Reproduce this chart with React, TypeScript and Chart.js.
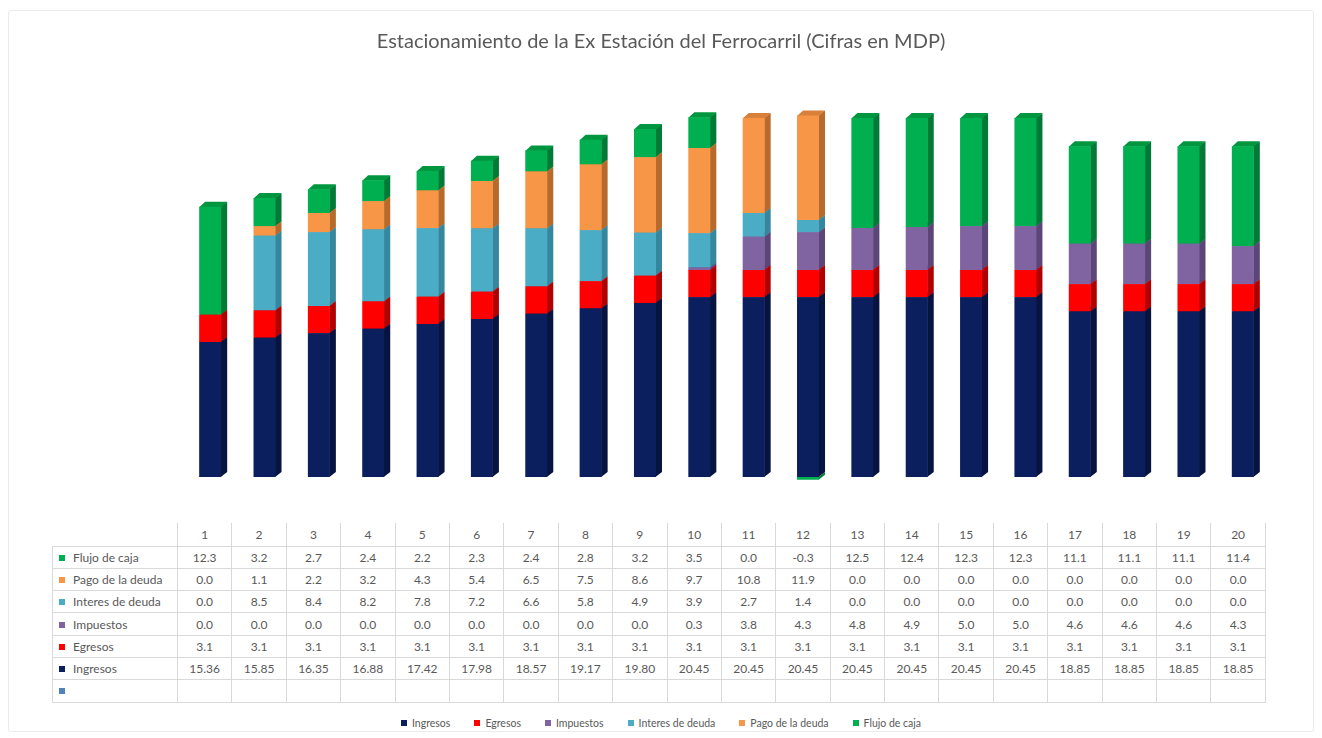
import React, { useEffect, useRef } from "react";
import { Chart, registerables } from "chart.js";

Chart.register(...registerables);

const TITLE = "Estacionamiento de la Ex Estación del Ferrocarril (Cifras en MDP)";
const periods = ["1", "2", "3", "4", "5", "6", "7", "8", "9", "10", "11", "12", "13", "14", "15", "16", "17", "18", "19", "20"];

const ingresos = [15.36, 15.85, 16.35, 16.88, 17.42, 17.98, 18.57, 19.17, 19.8, 20.45, 20.45, 20.45, 20.45, 20.45, 20.45, 20.45, 18.85, 18.85, 18.85, 18.85];
const egresos = [3.1, 3.1, 3.1, 3.1, 3.1, 3.1, 3.1, 3.1, 3.1, 3.1, 3.1, 3.1, 3.1, 3.1, 3.1, 3.1, 3.1, 3.1, 3.1, 3.1];
const impuestos = [0.0, 0.0, 0.0, 0.0, 0.0, 0.0, 0.0, 0.0, 0.0, 0.3, 3.8, 4.3, 4.8, 4.9, 5.0, 5.0, 4.6, 4.6, 4.6, 4.3];
const interesDeuda = [0.0, 8.5, 8.4, 8.2, 7.8, 7.2, 6.6, 5.8, 4.9, 3.9, 2.7, 1.4, 0.0, 0.0, 0.0, 0.0, 0.0, 0.0, 0.0, 0.0];
const pagoDeuda = [0.0, 1.1, 2.2, 3.2, 4.3, 5.4, 6.5, 7.5, 8.6, 9.7, 10.8, 11.9, 0.0, 0.0, 0.0, 0.0, 0.0, 0.0, 0.0, 0.0];
const flujoCaja = [12.3, 3.2, 2.7, 2.4, 2.2, 2.3, 2.4, 2.8, 3.2, 3.5, 0.0, -0.3, 12.5, 12.4, 12.3, 12.3, 11.1, 11.1, 11.1, 11.4];

const seriesNames = ["Ingresos", "Egresos", "Impuestos", "Interes de deuda", "Pago de la deuda", "Flujo de caja"];
const seriesValues = [ingresos, egresos, impuestos, interesDeuda, pagoDeuda, flujoCaja];
const seriesDecimals = [2, 1, 1, 1, 1, 1];
const frontColors = ["#0b1f5e", "#ff0000", "#8064a2", "#4bacc6", "#f79646", "#00b050"];
const sideColors = ["#06143f", "#b00000", "#5c4677", "#35879e", "#b86a2c", "#007a36"];
const topColors = ["#0a1a50", "#d80000", "#6f5690", "#3f9bb4", "#d9813a", "#00963f"];
const tableOrder = [5, 4, 3, 2, 1, 0];

const DX = 6;
const DY = 5;

const threeD = {
  id: "threeD",
  beforeDatasetsDraw(chart: any) {
    const ctx = chart.ctx;
    ctx.save();
    chart.data.datasets.forEach((ds: any, i: number) => {
      const meta = chart.getDatasetMeta(i);
      meta.data.forEach((el: any, j: number) => {
        const v = ds.data[j];
        const p = el.getProps(["x", "y", "base", "width"], true);
        const top = Math.min(p.y, p.base);
        const bottom = Math.max(p.y, p.base);
        if (bottom - top < 0.5) return;
        const l = p.x - p.width / 2;
        const r = p.x + p.width / 2;
        ctx.fillStyle = sideColors[i];
        ctx.beginPath();
        ctx.moveTo(r - 0.5, bottom);
        ctx.lineTo(r + DX, bottom - DY);
        ctx.lineTo(r + DX, top - DY);
        ctx.lineTo(r - 0.5, top);
        ctx.closePath();
        ctx.fill();
        if (v > 0) {
          ctx.fillStyle = topColors[i];
          ctx.beginPath();
          ctx.moveTo(l, top + 0.5);
          ctx.lineTo(l + DX, top - DY);
          ctx.lineTo(r + DX, top - DY);
          ctx.lineTo(r, top + 0.5);
          ctx.closePath();
          ctx.fill();
        }
      });
    });
    ctx.restore();
  },
};

const fmt = (v: number, d: number) => v.toFixed(d);

export default function App() {
  const canvasRef = useRef<HTMLCanvasElement | null>(null);

  useEffect(() => {
    if (!canvasRef.current) return;
    const chart = new Chart(canvasRef.current, {
      type: "bar",
      data: {
        labels: periods,
        datasets: seriesNames.map((name, i) => ({
          label: name,
          data: seriesValues[i],
          backgroundColor: frontColors[i],
          borderWidth: 0,
          categoryPercentage: 1,
          barPercentage: 0.405,
        })),
      },
      options: {
        responsive: false,
        animation: false,
        devicePixelRatio: 1,
        layout: { padding: { left: 0, right: 0, top: 0, bottom: 18.6 } },
        plugins: {
          legend: { display: false },
          tooltip: { enabled: false },
          title: {
            display: true,
            text: TITLE,
            color: "#595959",
            font: { family: "Lato", size: 20, weight: "normal" },
            padding: { top: 30, bottom: 27.6 },
          },
        },
        scales: {
          x: { stacked: true, display: false, grid: { display: false } },
          y: {
            stacked: true,
            min: -0.5,
            max: 45,
            position: "left",
            grid: { display: false },
            border: { display: false },
            ticks: { display: false },
            afterFit: (s: any) => {
              s.width = 183;
            },
          },
          yr: {
            min: 0,
            max: 1,
            position: "right",
            grid: { display: false },
            border: { display: false },
            ticks: { display: false },
            afterFit: (s: any) => {
              s.width = 52;
            },
          },
        },
      } as any,
      plugins: [threeD],
    });
    return () => chart.destroy();
  }, []);

  const border = "1px solid #d9d9d9";
  const labelW = 125;
  const colW = 54.4;

  return (
    <div
      style={{
        position: "absolute",
        left: 0,
        top: 0,
        width: 1322,
        height: 738,
        overflow: "hidden",
        background: "#ffffff",
        fontFamily: "Lato, 'Open Sans', sans-serif",
      }}
    >
      <div
        style={{
          position: "absolute",
          left: 8,
          top: 10,
          width: 1304,
          height: 720,
          border: "1px solid #ebebeb",
          borderRadius: 3,
        }}
      />
      <canvas ref={canvasRef} width={1322} height={500} style={{ position: "absolute", left: 0, top: 0 }} />
      <table
        style={{
          position: "absolute",
          left: 52,
          top: 523,
          borderCollapse: "collapse",
          tableLayout: "fixed",
          width: labelW + colW * 20,
          fontSize: 12,
          color: "#595959",
        }}
      >
        <colgroup>
          <col style={{ width: labelW }} />
          {periods.map((p) => (
            <col key={p} style={{ width: colW }} />
          ))}
        </colgroup>
        <tbody>
          <tr style={{ height: 23 }}>
            <td style={{ padding: 0 }} />
            {periods.map((p) => (
              <td key={p} style={{ padding: 0, textAlign: "center", borderLeft: border, borderRight: border }}>
                {p}
              </td>
            ))}
          </tr>
          {tableOrder.map((si) => (
            <tr key={si} style={{ height: 22.3 }}>
              <td style={{ padding: "0 0 0 6px", border, whiteSpace: "nowrap" }}>
                <span
                  style={{
                    display: "inline-block",
                    width: 6,
                    height: 6,
                    background: frontColors[si],
                    marginRight: 8,
                    verticalAlign: "middle",
                    position: "relative",
                    top: -1,
                  }}
                />
                {seriesNames[si]}
              </td>
              {seriesValues[si].map((v, j) => (
                <td key={j} style={{ padding: 0, textAlign: "center", border }}>
                  {fmt(v, seriesDecimals[si])}
                </td>
              ))}
            </tr>
          ))}
          <tr style={{ height: 22.3 }}>
            <td style={{ padding: "0 0 0 6px", border }}>
              <span
                style={{
                  display: "inline-block",
                  width: 6,
                  height: 6,
                  background: "#4f81bd",
                  verticalAlign: "middle",
                  position: "relative",
                  top: -1,
                }}
              />
            </td>
            {periods.map((p) => (
              <td key={p} style={{ padding: 0, border }} />
            ))}
          </tr>
        </tbody>
      </table>
      <div
        style={{
          position: "absolute",
          left: 0,
          top: 716,
          width: 1322,
          display: "flex",
          justifyContent: "center",
          gap: 24,
          fontSize: 10.5,
          color: "#595959",
          lineHeight: "14px",
        }}
      >
        {seriesNames.map((n, i) => (
          <span key={n} style={{ display: "inline-flex", alignItems: "center" }}>
            <span style={{ display: "inline-block", width: 6, height: 6, background: frontColors[i], marginRight: 5 }} />
            {n}
          </span>
        ))}
      </div>
    </div>
  );
}
